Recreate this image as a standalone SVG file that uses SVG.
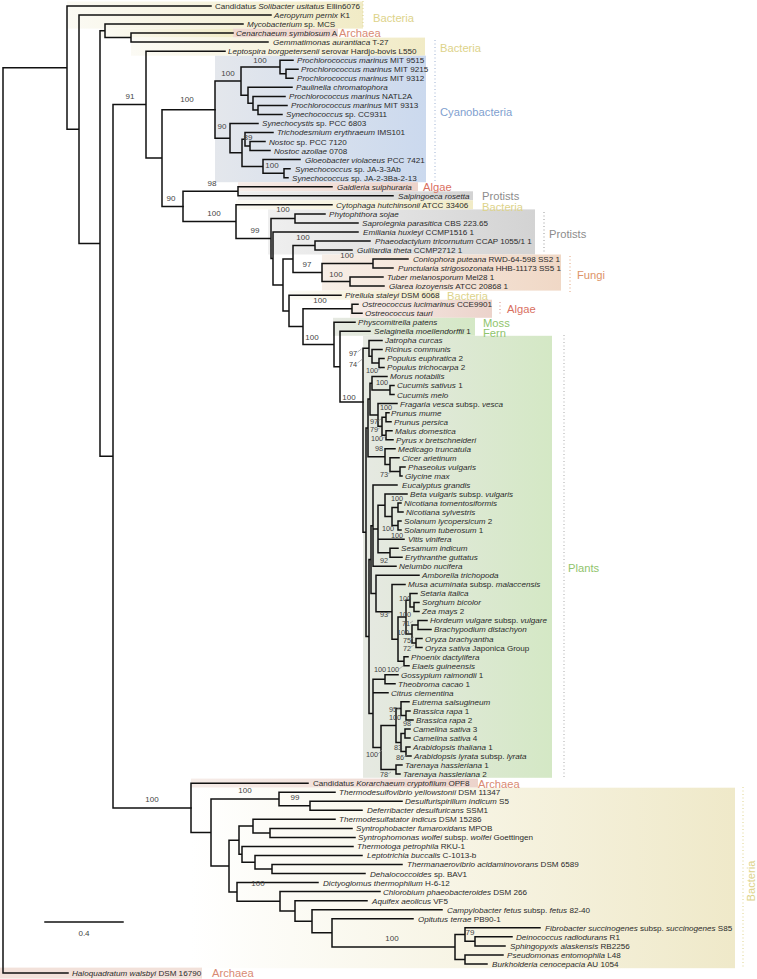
<svg xmlns="http://www.w3.org/2000/svg" width="757" height="979" viewBox="0 0 757 979">
<defs>
<linearGradient id="gY" x1="0" x2="1" y1="0" y2="0"><stop offset="0" stop-color="#fbfaf4"/><stop offset="1" stop-color="#f1ebc6"/></linearGradient>
<linearGradient id="gB" x1="0" x2="1" y1="0" y2="0"><stop offset="0" stop-color="#e4e7ec"/><stop offset="1" stop-color="#cbd9ee"/></linearGradient>
<linearGradient id="gP" x1="0" x2="1" y1="0" y2="0"><stop offset="0" stop-color="#f6ece8"/><stop offset="1" stop-color="#ecd3cb"/></linearGradient>
<linearGradient id="gG" x1="0" x2="1" y1="0" y2="0"><stop offset="0" stop-color="#efefef"/><stop offset="1" stop-color="#d3d3d3"/></linearGradient>
<linearGradient id="gF" x1="0" x2="1" y1="0" y2="0"><stop offset="0" stop-color="#f7eee7"/><stop offset="1" stop-color="#f0d8c6"/></linearGradient>
<linearGradient id="gL" x1="0" x2="1" y1="0" y2="0"><stop offset="0" stop-color="#e6e9e2"/><stop offset="1" stop-color="#d4e8c5"/></linearGradient>
<linearGradient id="gYb" x1="0" x2="1" y1="0" y2="0"><stop offset="0" stop-color="#ffffff"/><stop offset="1" stop-color="#efe9c9"/></linearGradient>
</defs>
<style>
.e{fill:none;stroke:#111;stroke-width:1.5;stroke-linecap:square}
.k{fill:none;stroke:#888;stroke-width:0.6}
.t{font-family:"Liberation Sans",Arial,sans-serif;font-size:8.1px;fill:#2b2b2b}
.i{font-style:italic}
.b{font-family:"Liberation Sans",Arial,sans-serif;font-size:8px;fill:#444;text-anchor:middle}
.s{font-size:7.3px}
.g{font-family:"Liberation Sans",Arial,sans-serif;font-size:11.2px}
.cb{fill:#ddd38a}.ca{fill:#d98a73}.cc{fill:#7f9fcf}.cr{fill:#d9705f}.cp{fill:#8c8c8c}.cf{fill:#dd9468}.cg{fill:#8fc46c}
.d{fill:none;stroke-width:1;stroke-dasharray:1 2.5}
</style>
<rect width="757" height="979" fill="#fff"/>
<g id="backgrounds">
<rect x="67" y="1.5" width="296" height="27.1" fill="url(#gY)"/>
<rect x="100" y="28.6" width="133" height="9" fill="url(#gY)"/>
<rect x="233" y="28.6" width="105" height="9" fill="#efd8d0"/>
<rect x="131" y="37.6" width="294" height="18.1" fill="url(#gY)"/>
<rect x="215" y="55.7" width="211" height="126.5" fill="url(#gB)"/>
<rect x="238" y="182.2" width="180" height="9.1" fill="url(#gP)"/>
<rect x="238" y="191.3" width="235" height="9" fill="url(#gG)"/>
<rect x="236" y="200.3" width="237" height="9.1" fill="url(#gY)"/>
<rect x="268" y="209.4" width="267" height="45.1" fill="url(#gG)"/>
<rect x="322" y="254.5" width="239" height="36.1" fill="url(#gF)"/>
<rect x="289" y="290.6" width="151" height="9.1" fill="url(#gY)"/>
<rect x="350" y="299.7" width="142" height="18.1" fill="url(#gP)"/>
<rect x="333" y="317.8" width="142" height="18" fill="url(#gL)"/>
<rect x="363" y="335.8" width="189" height="442" fill="url(#gL)"/>
<rect x="191" y="778.6" width="287" height="9.1" fill="url(#gP)"/>
<rect x="191" y="787.7" width="544" height="180.5" fill="url(#gYb)"/>
<rect x="0" y="967.6" width="202" height="11" fill="#f2e1da"/>
</g>
<g id="dividers">
<path class="d" stroke="#d9d08a" d="M363 1V27"/>
<path class="d" stroke="#9cb0d2" d="M435 40V183"/>
<path class="d" stroke="#999" d="M544 212V252"/>
<path class="d" stroke="#e0a07a" d="M570 256V292"/>
<path class="d" stroke="#d98a80" d="M500 302V316"/>
<path class="d" stroke="#aaa" d="M564 335V777"/>
<path class="d" stroke="#ddd28a" d="M743 787V968"/>
</g>
<g id="connectors">
<path class="e" d="M3 67.65V973M3 67.65H67M3 973H68
M67 6V129.3M67 6H211M67 129.3H79
M79 15V243.55M79 15H271M79 243.55H100
M100 30.85V456.25M100 30.85H105M100 456.25H113
M105 24.1V37.6M105 24.1H243M105 37.6H131
M131 33.1V42.1M131 33.1H233M131 42.1H268
M113 104.6V807.9M113 104.6H146M113 807.9H191
M146 51.2V158M146 51.2H225M146 158H162
M162 109.65V206.4M162 109.65H215M162 206.4H183"/>
<path class="e" d="M215 81.1V138.2M215 81.1H241M215 138.2H230
M241 67V95.2M241 67H280M241 95.2H248
M280 60.2V73.8M280 60.2H293M280 73.8H286
M286 69.3V78.3M286 69.3H298M286 78.3H293
M248 87.3V103.15M248 87.3H292M248 103.15H253
M253 96.4V109.9M253 96.4H285M253 109.9H258
M258 105.4V114.4M258 105.4H287M258 114.4H282
M230 123.5V152.85M230 123.5H258M230 152.85H242
M242 139.3V166.4M242 139.3H245M242 166.4H263
M245 132.5V146.1M245 132.5H273M245 146.1H250
M250 141.6V150.6M250 141.6H265M250 150.6H270
M263 159.6V173.2M263 159.6H300M263 173.2H284
M284 168.7V177.7M284 168.7H290M284 177.7H288"/>
<path class="e" d="M183 191.25V221.6M183 191.25H238M183 221.6H236
M238 186.7V195.8M238 186.7H332M238 195.8H393
M236 204.8V238.4M236 204.8H332M236 238.4H271
M271 218.4V258.45M271 218.4H295M271 258.45H273
M295 213.9V222.9M295 213.9H325M295 222.9H358
M273 231.9V285M273 231.9H358M273 285H283
M283 259.05V310.9M283 259.05H293M283 310.9H289
M293 245.5V272.6M293 245.5H315M293 272.6H322
M315 241V250M315 241H370M315 250H352
M322 263.55V281.6M322 263.55H373M322 281.6H350
M373 259V268.1M373 259H408M373 268.1H393
M350 277.1V286.1M350 277.1H383M350 286.1H384
M289 295.2V326.6M289 295.2H341M289 326.6H303
M303 308.75V344.5M303 308.75H352M303 344.5H334
M352 304.2V313.3M352 304.2H358M352 313.3H362
M334 322.3V366.65M334 322.3H355M334 366.65H340
M340 331.3V402M340 331.3H370M340 402H363"/>
<path class="e" d="M363 348.3V532.2M363 348.3H369M363 532.2H366
M369 340.4V356.2M369 340.4H382M369 356.2H372
M372 349.4V362.95M372 349.4H382M372 362.95H379
M379 358.4V367.5M379 358.4H384M379 367.5H384
M366 427.9V636.5M366 427.9H368M366 636.5H369
M368 399.1V456.7M368 399.1H370M368 456.7H385
M370 383.3V414.9M370 383.3H372M370 414.9H378
M372 376.5V390.05M372 376.5H387M372 390.05H390
M390 385.5V394.6M390 385.5H394M390 394.6H394
M378 403.6V426.2M378 403.6H397M378 426.2H382
M382 417.2V435.25M382 417.2H386M382 435.25H386
M386 412.7V421.7M386 412.7H389M386 421.7H391
M386 430.7V439.8M386 430.7H392M386 439.8H393
M385 448.8V464.6M385 448.8H395M385 464.6H390
M390 457.8V471.4M390 457.8H399M390 471.4H400
M400 466.9V475.9M400 466.9H405M400 475.9H402
M369 559.6V713.4M369 559.6H371M369 713.4H373
M371 525.65V593.55M371 525.65H373M371 593.55H376
M373 485V566.3M373 485H397M373 529H378M373 566.3H396
M378 505.3V552.75M378 505.3H385M378 539.2H404M378 552.75H390
M385 494V516.6M385 494H407M385 516.6H392
M392 507.55V525.6M392 507.55H398M392 525.6H398
M398 503V512.1M398 503H401M398 512.1H403
M398 521.1V530.1M398 521.1H401M398 530.1H401
M390 548.2V557.3M390 548.2H398M390 557.3H402
M376 575.3V611.8M376 575.3H419M376 611.8H392
M392 584.4V639.15M392 584.4H405M392 639.15H398
M398 617.1V661.2M398 617.1H406M398 661.2H404
M406 600.2V634.05M406 600.2H410M406 634.05H412
M410 593.4V606.95M410 593.4H417M410 606.95H414
M414 602.4V611.5M414 602.4H419M414 611.5H419
M412 625V643.1M412 625H418M412 643.1H416
M418 620.5V629.5M418 620.5H427M418 629.5H431
M416 638.6V647.6M416 638.6H422M416 647.6H422
M404 656.7V665.7M404 656.7H408M404 665.7H409
M373 679.25V747.6M373 679.25H385M373 692.8H388M373 747.6H381
M385 674.7V683.8M385 674.7H398M385 683.8H395
M381 725.55V769.6M381 725.55H396M381 769.6H396
M396 708.6V742.5M396 708.6H401M396 742.5H401
M401 701.8V715.4M401 701.8H409M401 715.4H406
M406 710.9V719.9M406 710.9H410M406 719.9H413
M401 733.5V751.55M401 733.5H405M401 751.55H406
M405 729V738M405 729H410M405 738H410
M406 747V756.1M406 747H410M406 756.1H411
M396 765.1V774.1M396 765.1H402M396 774.1H400"/>
<path class="e" d="M191 783.2V832.55M191 783.2H308M191 832.55H211
M211 799V866.1M211 799H279M211 866.1H229
M279 792.2V805.8M279 792.2H335M279 805.8H310
M310 801.3V810.3M310 801.3H402M310 810.3H362
M229 840.2V891.95M229 840.2H239M229 891.95H237
M239 826.1V854.35M239 826.1H253M239 854.35H242
M253 819.3V832.9M253 819.3H335M253 832.9H270
M270 828.4V837.4M270 828.4H352M270 837.4H355
M242 846.4V862.3M242 846.4H353M242 862.3H255
M255 855.5V869.05M255 855.5H362M255 869.05H272
M272 864.5V873.6M272 864.5H402M272 873.6H365
M237 882.6V901.3M237 882.6H318M237 901.3H280
M280 891.6V911M280 891.6H380M280 911H295
M295 900.7V921.3M295 900.7H367M295 921.3H312
M312 909.7V932.85M312 909.7H442M312 932.85H332
M332 918.7V947M332 918.7H413M332 947H455
M455 934.6V959.4M455 934.6H465M455 959.4H465
M465 927.8V941.35M465 927.8H540M465 941.35H475
M475 936.8V945.9M475 936.8H512M475 945.9H505
M465 954.9V963.9M465 954.9H503M465 963.9H487"/>
<path class="k" d="M357.5 352l4 -3M357.5 363l5 -4M378 370l3 -2M378 421l3 -2M378 429l3 -2M383 438l3 -2M388 474l3 -2M388 614l3 -2M410 623l3 -2M411 639l3 -2M411 647l3 -2M399 669l4 -3M378 754l4 -4M388 774l3 -2M397 709l3 -1M404 757l3 -2"/>
</g>
<g id="support">
<text class="b" x="130" y="99">91</text><text class="b" x="187" y="102">100</text><text class="b" x="228" y="76">100</text><text class="b" x="260" y="62.5">100</text>
<text class="b" x="222" y="128.5">90</text><text class="b" x="248" y="139.6">89</text><text class="b" x="272" y="168">100</text>
<text class="b" x="212" y="186">98</text><text class="b" x="171" y="201">90</text><text class="b" x="214" y="216">100</text><text class="b" x="255" y="233">99</text>
<text class="b" x="283" y="212">100</text><text class="b" x="303" y="240">100</text><text class="b" x="307" y="267">97</text><text class="b" x="347" y="258">100</text><text class="b" x="336" y="277">100</text>
<text class="b" x="320" y="303">100</text><text class="b" x="312" y="340">100</text><text class="b" x="349" y="400">100</text>
<text class="b s" x="353" y="356">97</text><text class="b s" x="353" y="367">74</text><text class="b s" x="372" y="373">100</text><text class="b s" x="382" y="385">100</text>
<text class="b s" x="386" y="410">100</text><text class="b s" x="374" y="424">97</text><text class="b s" x="374" y="432">79</text><text class="b s" x="377" y="441">100</text>
<text class="b s" x="379" y="451">98</text><text class="b s" x="384" y="477">73</text><text class="b s" x="397" y="501">100</text><text class="b s" x="388" y="531">100</text>
<text class="b s" x="397" y="538">100</text><text class="b s" x="384" y="563">92</text><text class="b s" x="405" y="601">100</text><text class="b s" x="384" y="617">93</text>
<text class="b s" x="405" y="617">100</text><text class="b s" x="406" y="626">71</text><text class="b s" x="403" y="634.5">100</text><text class="b s" x="407" y="642.5">75</text>
<text class="b s" x="407" y="650.5">72</text><text class="b s" x="380" y="672">100</text><text class="b s" x="393" y="672">100</text><text class="b s" x="393" y="712">95</text>
<text class="b s" x="395" y="720">100</text><text class="b s" x="407" y="726">98</text><text class="b s" x="398" y="750">83</text><text class="b s" x="400" y="760">86</text>
<text class="b s" x="372" y="757">100</text><text class="b s" x="384" y="777">78</text>
<text class="b" x="152" y="802">100</text><text class="b" x="245" y="793">100</text><text class="b" x="295" y="800">99</text>
<text class="b" x="258" y="886">100</text><text class="b" x="392" y="941">100</text><text class="b" x="470" y="935">79</text>
</g>
<g id="groups">
<text class="g cb" x="373" y="22">Bacteria</text>
<text class="g ca" x="339" y="37">Archaea</text>
<text class="g cb" x="440" y="51.5">Bacteria</text>
<text class="g cc" x="440" y="116">Cyanobacteria</text>
<text class="g cr" x="423" y="191">Algae</text>
<text class="g cp" x="482" y="199.5">Protists</text>
<text class="g cb" x="482" y="210.5">Bacteria</text>
<text class="g cp" x="549" y="237.5">Protists</text>
<text class="g cf" x="577" y="278.5">Fungi</text>
<text class="g cb" x="447" y="299.5">Bacteria</text>
<text class="g cr" x="507" y="312.5">Algae</text>
<text class="g cg" x="483" y="326.5">Moss</text>
<text class="g cg" x="483" y="337">Fern</text>
<text class="g cg" x="568" y="572">Plants</text>
<text class="g ca" x="478" y="787.5">Archaea</text>
<text class="g cb" x="755" y="881" text-anchor="middle" transform="rotate(-90 755 881)">Bacteria</text>
<text class="g ca" x="212" y="977">Archaea</text>
</g>
<g id="scale">
<path class="e" d="M45 922H123"/>
<text class="b" x="84" y="936">0.4</text>
</g>
<g id="leaves">
<g id="L0"><text class="t" x="215" y="8.9">Candidatus <tspan class="i">Solibacter usitatus</tspan> Ellin6076</text></g>
<g id="L1"><text class="t" x="274" y="17.9"><tspan class="i">Aeropyrum pernix</tspan> K1</text></g>
<g id="L2"><text class="t" x="247" y="27"><tspan class="i">Mycobacterium</tspan> sp. MCS</text></g>
<g id="L3"><text class="t" x="236" y="36"><tspan class="i">Cenarchaeum symbiosum</tspan> A</text></g>
<g id="L4"><text class="t" x="273" y="45.3"><tspan class="i">Gemmatimonas aurantiaca</tspan> T-27</text></g>
<g id="L5"><text class="t" x="228" y="54.1"><tspan class="i">Leptospira borgpetersenii</tspan> serovar Hardjo-bovis L550</text></g>
<g id="L6"><text class="t" x="297" y="63.1"><tspan class="i">Prochlorococcus marinus</tspan> MIT 9515</text></g>
<g id="L7"><text class="t" x="301" y="72.2"><tspan class="i">Prochlorococcus marinus</tspan> MIT 9215</text></g>
<g id="L8"><text class="t" x="297" y="81.2"><tspan class="i">Prochlorococcus marinus</tspan> MIT 9312</text></g>
<g id="L9"><text class="t" x="296" y="90.2"><tspan class="i">Paulinella chromatophora</tspan></text></g>
<g id="L10"><text class="t" x="289" y="99.3"><tspan class="i">Prochlorococcus marinus</tspan> NATL2A</text></g>
<g id="L11"><text class="t" x="291" y="108.3"><tspan class="i">Prochlorococcus marinus</tspan> MIT 9313</text></g>
<g id="L12"><text class="t" x="286" y="117.3"><tspan class="i">Synechococcus</tspan> sp. CC9311</text></g>
<g id="L13"><text class="t" x="262" y="126.4"><tspan class="i">Synechocystis</tspan> sp. PCC 6803</text></g>
<g id="L14"><text class="t" x="277" y="135.4"><tspan class="i">Trichodesmium erythraeum</tspan> IMS101</text></g>
<g id="L15"><text class="t" x="269" y="144.5"><tspan class="i">Nostoc</tspan> sp. PCC 7120</text></g>
<g id="L16"><text class="t" x="274" y="153.5"><tspan class="i">Nostoc azollae</tspan> 0708</text></g>
<g id="L17"><text class="t" x="305" y="162.5"><tspan class="i">Gloeobacter violaceus</tspan> PCC 7421</text></g>
<g id="L18"><text class="t" x="295" y="171.6"><tspan class="i">Synechococcus</tspan> sp. JA-3-3Ab</text></g>
<g id="L19"><text class="t" x="292" y="180.6"><tspan class="i">Synechococcus</tspan> sp. JA-2-3Ba-2-13</text></g>
<g id="L20"><text class="t" x="337" y="189.6"><tspan class="i">Galdieria sulphuraria</tspan></text></g>
<g id="L21"><text class="t" x="398" y="198.7"><tspan class="i">Salpingoeca rosetta</tspan></text></g>
<g id="L22"><text class="t" x="336" y="207.7"><tspan class="i">Cytophaga hutchinsonii</tspan> ATCC 33406</text></g>
<g id="L23"><text class="t" x="329" y="216.8"><tspan class="i">Phytophthora sojae</tspan></text></g>
<g id="L24"><text class="t" x="362" y="225.8"><tspan class="i">Saprolegnia parasitica</tspan> CBS 223.65</text></g>
<g id="L25"><text class="t" x="363" y="234.8"><tspan class="i">Emiliania huxleyi</tspan> CCMP1516 1</text></g>
<g id="L26"><text class="t" x="375" y="243.9"><tspan class="i">Phaeodactylum tricornutum</tspan> CCAP 1055/1 1</text></g>
<g id="L27"><text class="t" x="357" y="252.9"><tspan class="i">Guillardia theta</tspan> CCMP2712 1</text></g>
<g id="L28"><text class="t" x="413" y="261.9"><tspan class="i">Coniophora puteana</tspan> RWD-64-598 SS2 1</text></g>
<g id="L29"><text class="t" x="398" y="271"><tspan class="i">Punctularia strigosozonata</tspan> HHB-11173 SS5 1</text></g>
<g id="L30"><text class="t" x="387" y="280"><tspan class="i">Tuber melanosporum</tspan> Mel28 1</text></g>
<g id="L31"><text class="t" x="389" y="289"><tspan class="i">Glarea lozoyensis</tspan> ATCC 20868 1</text></g>
<g id="L32"><text class="t" x="345" y="298.1"><tspan class="i">Pirellula staleyi</tspan> DSM 6068</text></g>
<g id="L33"><text class="t" x="362" y="307.1"><tspan class="i">Ostreococcus lucimarinus</tspan> CCE9901</text></g>
<g id="L34"><text class="t" x="365" y="316.2"><tspan class="i">Ostreococcus tauri</tspan></text></g>
<g id="L35"><text class="t" x="358" y="325.2"><tspan class="i">Physcomitrella patens</tspan></text></g>
<g id="L36"><text class="t" x="374" y="334.2"><tspan class="i">Selaginella moellendorffii</tspan> 1</text></g>
<g id="L37"><text class="t i" x="385" y="343.3">Jatropha curcas</text></g>
<g id="L38"><text class="t i" x="385" y="352.3">Ricinus communis</text></g>
<g id="L39"><text class="t" x="387" y="361.3"><tspan class="i">Populus euphratica</tspan> 2</text></g>
<g id="L40"><text class="t" x="387" y="370.4"><tspan class="i">Populus trichocarpa</tspan> 2</text></g>
<g id="L41"><text class="t i" x="390" y="379.4">Morus notabilis</text></g>
<g id="L42"><text class="t" x="397" y="388.4"><tspan class="i">Cucumis sativus</tspan> 1</text></g>
<g id="L43"><text class="t i" x="397" y="397.5">Cucumis melo</text></g>
<g id="L44"><text class="t" x="400" y="406.5"><tspan class="i">Fragaria vesca</tspan> subsp. <tspan class="i">vesca</tspan></text></g>
<g id="L45"><text class="t i" x="391" y="415.6">Prunus mume</text></g>
<g id="L46"><text class="t i" x="394" y="424.6">Prunus persica</text></g>
<g id="L47"><text class="t i" x="395" y="433.6">Malus domestica</text></g>
<g id="L48"><text class="t i" x="396" y="442.7">Pyrus x bretschneideri</text></g>
<g id="L49"><text class="t i" x="398" y="451.7">Medicago truncatula</text></g>
<g id="L50"><text class="t i" x="402" y="460.7">Cicer arietinum</text></g>
<g id="L51"><text class="t i" x="408" y="469.8">Phaseolus vulgaris</text></g>
<g id="L52"><text class="t i" x="405" y="478.8">Glycine max</text></g>
<g id="L53"><text class="t i" x="402" y="487.9">Eucalyptus grandis</text></g>
<g id="L54"><text class="t" x="410" y="496.9"><tspan class="i">Beta vulgaris</tspan> subsp. <tspan class="i">vulgaris</tspan></text></g>
<g id="L55"><text class="t i" x="404" y="505.9">Nicotiana tomentosiformis</text></g>
<g id="L56"><text class="t i" x="406" y="515">Nicotiana sylvestris</text></g>
<g id="L57"><text class="t" x="404" y="524"><tspan class="i">Solanum lycopersicum</tspan> 2</text></g>
<g id="L58"><text class="t" x="404" y="533"><tspan class="i">Solanum tuberosum</tspan> 1</text></g>
<g id="L59"><text class="t i" x="408" y="542.1">Vitis vinifera</text></g>
<g id="L60"><text class="t i" x="401" y="551.1">Sesamum indicum</text></g>
<g id="L61"><text class="t i" x="405" y="560.2">Erythranthe guttatus</text></g>
<g id="L62"><text class="t i" x="399" y="569.2">Nelumbo nucifera</text></g>
<g id="L63"><text class="t i" x="422" y="578.2">Amborella trichopoda</text></g>
<g id="L64"><text class="t" x="408" y="587.3"><tspan class="i">Musa acuminata</tspan> subsp. <tspan class="i">malaccensis</tspan></text></g>
<g id="L65"><text class="t i" x="420" y="596.3">Setaria italica</text></g>
<g id="L66"><text class="t i" x="422" y="605.3">Sorghum bicolor</text></g>
<g id="L67"><text class="t" x="422" y="614.4"><tspan class="i">Zea mays</tspan> 2</text></g>
<g id="L68"><text class="t" x="430" y="623.4"><tspan class="i">Hordeum vulgare</tspan> subsp. <tspan class="i">vulgare</tspan></text></g>
<g id="L69"><text class="t i" x="434" y="632.4">Brachypodium distachyon</text></g>
<g id="L70"><text class="t i" x="425" y="641.5">Oryza brachyantha</text></g>
<g id="L71"><text class="t" x="425" y="650.5"><tspan class="i">Oryza sativa</tspan> Japonica Group</text></g>
<g id="L72"><text class="t i" x="411" y="659.6">Phoenix dactylifera</text></g>
<g id="L73"><text class="t i" x="412" y="668.6">Elaeis guineensis</text></g>
<g id="L74"><text class="t" x="401" y="677.6"><tspan class="i">Gossypium raimondii</tspan> 1</text></g>
<g id="L75"><text class="t" x="398" y="686.7"><tspan class="i">Theobroma cacao</tspan> 1</text></g>
<g id="L76"><text class="t i" x="391" y="695.7">Citrus clementina</text></g>
<g id="L77"><text class="t i" x="412" y="704.7">Eutrema salsugineum</text></g>
<g id="L78"><text class="t" x="413" y="713.8"><tspan class="i">Brassica rapa</tspan> 1</text></g>
<g id="L79"><text class="t" x="416" y="722.8"><tspan class="i">Brassica rapa</tspan> 2</text></g>
<g id="L80"><text class="t" x="413" y="731.9"><tspan class="i">Camelina sativa</tspan> 3</text></g>
<g id="L81"><text class="t" x="413" y="740.9"><tspan class="i">Camelina sativa</tspan> 4</text></g>
<g id="L82"><text class="t" x="413" y="749.9"><tspan class="i">Arabidopsis thaliana</tspan> 1</text></g>
<g id="L83"><text class="t" x="414" y="759"><tspan class="i">Arabidopsis lyrata</tspan> subsp. <tspan class="i">lyrata</tspan></text></g>
<g id="L84"><text class="t" x="405" y="768"><tspan class="i">Tarenaya hassleriana</tspan> 1</text></g>
<g id="L85"><text class="t" x="403" y="777"><tspan class="i">Tarenaya hassleriana</tspan> 2</text></g>
<g id="L86"><text class="t" x="313" y="786.1">Candidatus <tspan class="i">Korarchaeum cryptofilum</tspan> OPF8</text></g>
<g id="L87"><text class="t" x="339" y="795.1"><tspan class="i">Thermodesulfovibrio yellowstonii</tspan> DSM 11347</text></g>
<g id="L88"><text class="t" x="405" y="804.2"><tspan class="i">Desulfurispirillum indicum</tspan> S5</text></g>
<g id="L89"><text class="t" x="367" y="813.2"><tspan class="i">Deferribacter desulfuricans</tspan> SSM1</text></g>
<g id="L90"><text class="t" x="339" y="822.2"><tspan class="i">Thermodesulfatator indicus</tspan> DSM 15286</text></g>
<g id="L91"><text class="t" x="356" y="831.3"><tspan class="i">Syntrophobacter fumaroxidans</tspan> MPOB</text></g>
<g id="L92"><text class="t" x="358" y="840.3"><tspan class="i">Syntrophomonas wolfei</tspan> subsp. <tspan class="i">wolfei</tspan> Goettingen</text></g>
<g id="L93"><text class="t" x="357" y="849.3"><tspan class="i">Thermotoga petrophila</tspan> RKU-1</text></g>
<g id="L94"><text class="t" x="367" y="858.4"><tspan class="i">Leptotrichia buccalis</tspan> C-1013-b</text></g>
<g id="L95"><text class="t" x="407" y="867.4"><tspan class="i">Thermanaerovibrio acidaminovorans</tspan> DSM 6589</text></g>
<g id="L96"><text class="t" x="370" y="876.5"><tspan class="i">Dehalococcoides</tspan> sp. BAV1</text></g>
<g id="L97"><text class="t" x="323" y="885.5"><tspan class="i">Dictyoglomus thermophilum</tspan> H-6-12</text></g>
<g id="L98"><text class="t" x="383" y="894.5"><tspan class="i">Chlorobium phaeobacteroides</tspan> DSM 266</text></g>
<g id="L99"><text class="t" x="372" y="903.6"><tspan class="i">Aquifex aeolicus</tspan> VF5</text></g>
<g id="L100"><text class="t" x="447" y="912.6"><tspan class="i">Campylobacter fetus</tspan> subsp. <tspan class="i">fetus</tspan> 82-40</text></g>
<g id="L101"><text class="t" x="418" y="921.6"><tspan class="i">Opitutus terrae</tspan> PB90-1</text></g>
<g id="L102"><text class="t" x="545" y="930.7"><tspan class="i">Fibrobacter succinogenes</tspan> subsp. <tspan class="i">succinogenes</tspan> S85</text></g>
<g id="L103"><text class="t" x="516" y="939.7"><tspan class="i">Deinococcus radiodurans</tspan> R1</text></g>
<g id="L104"><text class="t" x="510" y="948.8"><tspan class="i">Sphingopyxis alaskensis</tspan> RB2256</text></g>
<g id="L105"><text class="t" x="507" y="957.8"><tspan class="i">Pseudomonas entomophila</tspan> L48</text></g>
<g id="L106"><text class="t" x="492" y="966.8"><tspan class="i">Burkholderia cenocepacia</tspan> AU 1054</text></g>
<g id="L107"><text class="t" x="72" y="975.9"><tspan class="i">Haloquadratum walsbyi</tspan> DSM 16790</text></g>
</g>
</svg>
